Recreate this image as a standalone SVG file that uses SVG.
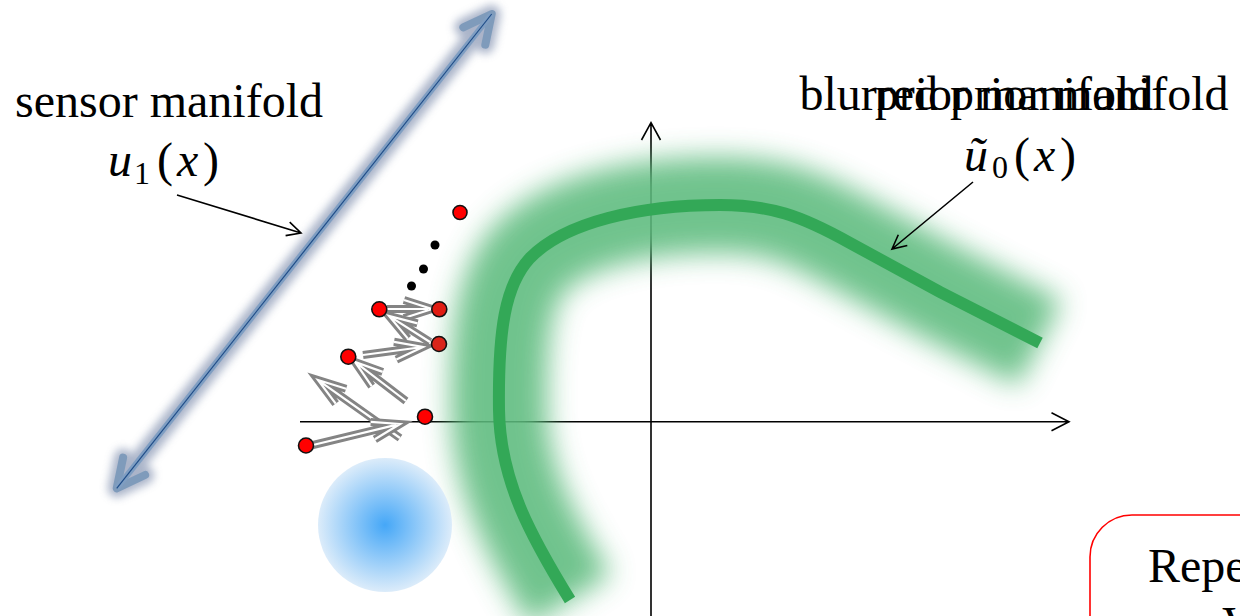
<svg xmlns="http://www.w3.org/2000/svg" width="1240" height="616" viewBox="0 0 1240 616">
<style>
.lbl{font-family:"Liberation Serif","Times New Roman",serif;font-size:48px;fill:#000}
.math{font-family:"Liberation Serif","Times New Roman",serif;font-size:48px;font-style:italic;fill:#000}
.sub{font-family:"Liberation Serif","Times New Roman",serif;font-size:32px;fill:#000}
.par{font-family:"Liberation Serif","Times New Roman",serif;font-size:48px;fill:#000}
.axis{stroke:#000;stroke-width:1.6;fill:none}
.callout{stroke:#000;stroke-width:1.6;fill:none}
.dbl-o{stroke:#848484;stroke-width:8;fill:none;stroke-linejoin:miter}
.dbl-i{stroke:#fff;stroke-width:2.2;fill:none;stroke-linejoin:miter}
.rdot{fill:#f00;stroke:#111;stroke-width:1.6}
.bdot{fill:#000}
</style>
<defs>
<filter id="glow" x="-30%" y="-30%" width="160%" height="160%"><feGaussianBlur stdDeviation="14"/></filter>
<filter id="halo" x="-20%" y="-20%" width="140%" height="140%"><feGaussianBlur stdDeviation="4"/></filter>
<radialGradient id="blue" cx="50%" cy="50%" r="50%">
<stop offset="0" stop-color="#45a7f7"/>
<stop offset="1" stop-color="#dcecfa"/>
</radialGradient>
</defs>
<rect width="1240" height="616" fill="#fff"/>

<g id="axes">
<path class="axis" d="M300 421.7 H1068 M1051.5 412.7 L1069 421.7 L1051.5 430.7"/>
<path class="axis" d="M651 616 V123 M641.5 140 L651 122.7 L660.5 140"/>
</g>

<g id="prior-manifold">
<path d="M570 600 C530 535 500 480 499 410 C498 330 505 285 530 258 C565 222 640 205 720 205 C770 205 800 215 850 243 L940 292 L1040 343" stroke="#5dbb7e" stroke-width="96" fill="none" opacity="0.88" filter="url(#glow)"/>
<path d="M570 600 C530 535 500 480 499 410 C498 330 505 285 530 258 C565 222 640 205 720 205 C770 205 800 215 850 243 L940 292 L1040 343" stroke="#33a857" stroke-width="12" fill="none"/>
</g>

<g id="blur-kernel">
<circle cx="385" cy="525" r="67" fill="url(#blue)"/>
</g>

<g id="sensor-manifold">
<g filter="url(#halo)" opacity="0.75">
<path d="M116.7 488.3 L491.7 14 M485.3 44.7 L491.7 14 L463.3 27.3 M145.1 475 L116.7 488.3 L123.1 457.6" stroke="#8f9cb8" stroke-width="18" fill="none" stroke-linecap="round" stroke-linejoin="round"/>
</g>
<path d="M485.3 44.7 L491.7 14 L463.3 27.3 M145.1 475 L116.7 488.3 L123.1 457.6" stroke="#7f9bbb" stroke-width="8" fill="none" stroke-linecap="round" stroke-linejoin="round"/>
<path d="M116.7 488.3 L491.7 14" stroke="#7f9ec2" stroke-width="6" fill="none"/>
<path d="M116.7 488.3 L491.7 14" stroke="#1f4d88" stroke-width="1.2" fill="none"/>
</g>

<g id="connectors">
<path class="callout" d="M177 195 L301 233 M285.6 235.6 L301 233 L289.7 222.2"/>
<path class="callout" d="M973 182 L892 249 M898.3 234.7 L892 249 L907.3 245.5"/>
<g id="iterates">
<path class="dbl-o" d="M387 309 L428 309 M404 300 L432 309 L404 318"/>
<path class="dbl-i" d="M387 309 L428 309 M404 300 L432 309 L404 318"/>
<path class="dbl-o" d="M430 342 L392.4 318.1 M417.5 323.4 L389 316 L407.9 338.6"/>
<path class="dbl-i" d="M430 342 L392.4 318.1 M417.5 323.4 L389 316 L407.9 338.6"/>
<path class="dbl-o" d="M363 355 L419 347.5 M396.4 359.6 L423 347 L394 341.8"/>
<path class="dbl-i" d="M363 355 L419 347.5 M396.4 359.6 L423 347 L394 341.8"/>
<path class="dbl-o" d="M406 401 L358.2 364.4 M382.7 371.9 L355 362 L371.7 386.1"/>
<path class="dbl-i" d="M406 401 L358.2 364.4 M382.7 371.9 L355 362 L371.7 386.1"/>
<path class="dbl-o" d="M400 438 L321.3 382.3 M346.1 388.8 L318 380 L335.7 403.6"/>
<path class="dbl-i" d="M400 438 L321.3 382.3 M346.1 388.8 L318 380 L335.7 403.6"/>
<path class="dbl-o" d="M313 445 L396.1 424.9 M374.9 439.3 L400 424 L370.7 421.9"/>
<path class="dbl-i" d="M313 445 L396.1 424.9 M374.9 439.3 L400 424 L370.7 421.9"/>
</g>
</g>

<g id="points">
<circle class="rdot" cx="460" cy="212.5" r="7"/>
<circle class="bdot" cx="435" cy="245" r="4.5"/>
<circle class="bdot" cx="423.5" cy="269" r="4.5"/>
<circle class="bdot" cx="411.5" cy="286" r="4.5"/>
<circle class="rdot" cx="379.3" cy="309.3" r="7.5"/>
<circle class="rdot" cx="439.3" cy="309.3" r="7.5" style="fill:#e01c12"/>
<circle class="rdot" cx="439" cy="344" r="7.5" style="fill:#d9251a"/>
<circle class="rdot" cx="348.3" cy="356.7" r="7.5"/>
<circle class="rdot" cx="425" cy="416.7" r="7.5"/>
<circle class="rdot" cx="306" cy="445.5" r="7.5"/>
</g>

<g id="label-sensor">
<text class="lbl" x="169" y="117" text-anchor="middle">sensor manifold</text>
<text class="math" x="108" y="176">u</text>
<text class="sub" x="134" y="184">1</text>
<text class="par" x="157" y="176">(</text>
<text class="math" x="177" y="176">x</text>
<text class="par" x="203" y="176">)</text>
</g>

<g id="label-prior">
<text class="lbl" x="1014" y="110" text-anchor="middle">blurred prior manifold</text>
<text class="lbl" x="1014" y="110" text-anchor="middle">prior manifold</text>
<text class="math" x="964" y="171">ũ</text>
<text class="sub" x="992" y="178">0</text>
<text class="par" x="1014" y="171">(</text>
<text class="math" x="1034" y="171">x</text>
<text class="par" x="1060" y="171">)</text>
</g>

<g id="repeat-box">
<rect x="1090" y="515" width="220" height="160" rx="42" fill="#fff" stroke="#f00" stroke-width="1.6"/>
<text class="lbl" x="1148" y="582">Repe</text>
<text class="lbl" x="1222" y="640">V</text>
</g>
</svg>
